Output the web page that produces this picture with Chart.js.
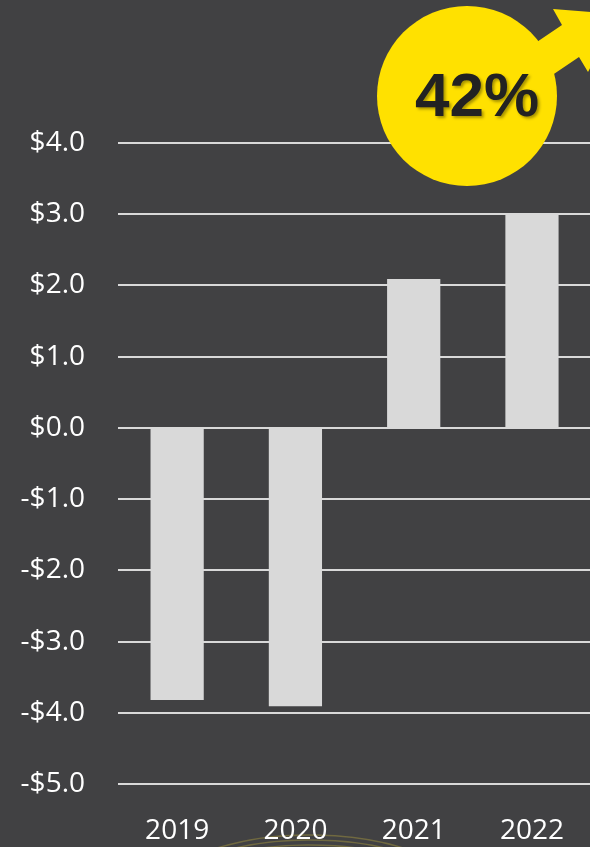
<!DOCTYPE html>
<html>
<head>
<meta charset="utf-8">
<script src="https://cdn.jsdelivr.net/npm/chart.js@4"></script>
<style>
  html, body { margin: 0; padding: 0; background: #414143; overflow: hidden; }
  #wrap { width: 594px; height: 847px; position: relative; }
</style>
</head>
<body>
<div id="wrap"><canvas id="chart"></canvas></div>
<script>
const years = ['2019', '2020', '2021', '2022'];
const values = [-3.82, -3.91, 2.09, 2.99];
const badgeText = '42%';

const BG = '#414143';

// background, faint arcs, and the yellow badge with arrow
const decor = {
    id: 'decor',
    beforeDraw: chart => {
        const ctx = chart.ctx;
        ctx.save();
        ctx.fillStyle = BG;
        ctx.fillRect(0, 0, chart.width, chart.height);
        // faint arcs near the bottom
        ctx.strokeStyle = 'rgba(200, 180, 60, 0.35)';
        ctx.lineWidth = 1.5;
        [0, 5, 10, 15].forEach(d => {
            ctx.beginPath();
            ctx.ellipse(310, 905 + d, 160, 70, 0, Math.PI * 1.05, Math.PI * 1.95);
            ctx.stroke();
        });
        ctx.restore();
    },
    afterDraw: chart => {
        const ctx = chart.ctx;
        ctx.save();
        ctx.fillStyle = '#ffe100';
        // arrow
        ctx.beginPath();
        ctx.moveTo(528, 48);
        ctx.lineTo(562, 25);
        ctx.lineTo(553, 9);
        ctx.lineTo(618, 14);
        ctx.lineTo(588, 72);
        ctx.lineTo(579, 57);
        ctx.lineTo(545, 80);
        ctx.closePath();
        ctx.fill();
        // circle
        ctx.beginPath();
        ctx.arc(467, 96, 90, 0, Math.PI * 2);
        ctx.fill();
        // label
        ctx.font = 'bold 62px "Liberation Sans", Arial, sans-serif';
        ctx.textAlign = 'center';
        ctx.textBaseline = 'middle';
        ctx.shadowColor = 'rgba(0,0,0,0.35)';
        ctx.shadowOffsetX = 2;
        ctx.shadowOffsetY = 2;
        ctx.shadowBlur = 3;
        ctx.fillStyle = '#222222';
        ctx.fillText(badgeText, 477, 99);
        ctx.restore();
    }
};

new Chart(document.getElementById('chart').getContext('2d'), {
    type: 'bar',
    data: {
        labels: years,
        datasets: [{
            data: values,
            backgroundColor: '#d9d9d9',
            borderWidth: 0,
            barPercentage: 0.45,
            categoryPercentage: 1
        }]
    },
    options: {
        responsive: true,
        maintainAspectRatio: false,
        animation: false,
        layout: { padding: { top: 143, left: 0, right: 0, bottom: 0 } },
        plugins: {
            legend: { display: false },
            tooltip: { enabled: false }
        },
        scales: {
            x: {
                afterFit: s => { s.height = 63; },
                grid: { display: false, drawTicks: false },
                border: { display: false },
                ticks: {
                    color: '#ffffff',
                    padding: 30,
                    font: { family: '"Open Sans", "Noto Sans", sans-serif', size: 28 }
                }
            },
            y: {
                min: -5,
                max: 4,
                afterFit: s => { s.width = 118; },
                grid: { color: '#d9d9d9', lineWidth: 2, drawTicks: false },
                border: { display: false },
                ticks: {
                    stepSize: 1,
                    color: '#ffffff',
                    padding: 33,
                    font: { family: '"Open Sans", "Noto Sans", sans-serif', size: 28 },
                    callback: v => (v < 0 ? '-$' : '$') + Math.abs(v).toFixed(1)
                }
            }
        }
    },
    plugins: [decor]
});
</script>
</body>
</html>
